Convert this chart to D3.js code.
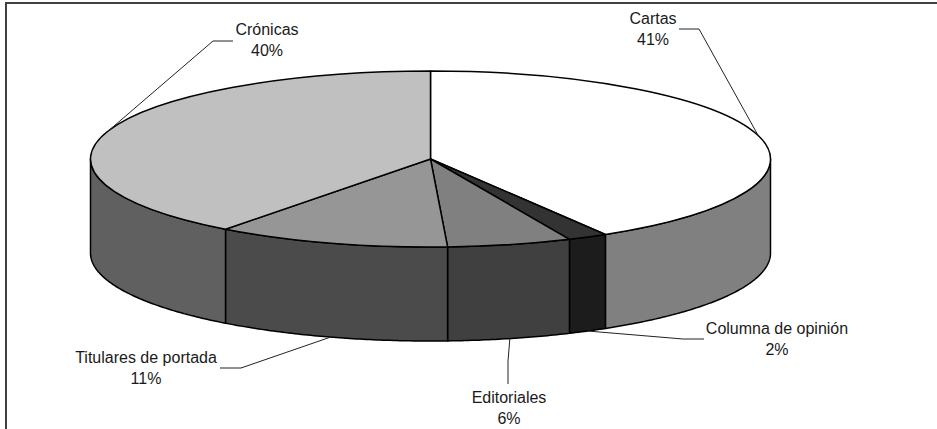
<!DOCTYPE html>
<html>
<head>
<meta charset="utf-8">
<script src="https://cdn.jsdelivr.net/npm/d3@7"></script>
<style>
body { margin: 0; background: #fff; }
text { font-family: "Liberation Sans", Arial, sans-serif; font-size: 16px; fill: #1a1a1a; }
</style>
</head>
<body>
<svg id="chart" width="937" height="429"></svg>
<script>
// values, the labels show them rounded
var categories = ["Cartas", "Columna de opinión", "Editoriales", "Titulares de portada", "Crónicas"];
var values = [41.4, 1.9, 5.9, 11.1, 39.7];
var top_colors = ["#ffffff", "#333333", "#808080", "#969696", "#c0c0c0"];
var side_colors = ["#808080", "#1c1c1c", "#404040", "#4b4b4b", "#606060"];

var width = 937, height = 429;
var cx = 430.5, cy = 159, rx = 340, ry = 88, depth = 94;

// label centre and the two points each leader line passes through
var label_pos = [
    {x: 653, y: 24, elbow: [[699, 29], [679, 29]]},
    {x: 777, y: 334, elbow: [[683, 339], [704, 339]]},
    {x: 509, y: 403, elbow: [[508, 361], [508, 384]]},
    {x: 146, y: 363, elbow: [[241, 368], [220, 368]]},
    {x: 267, y: 35, elbow: [[213, 41], [233, 41]]}
];

var svg = d3.select("#chart");
var fmt = d3.format(".0f");

var total = d3.sum(values);
var pie = d3.pie().sort(null).value(d => d);
var slices = pie(values);

// frame
svg.append("path")
    .attr("d", "M6,429V3H937")
    .style("fill", "none")
    .style("stroke", "#404040")
    .style("stroke-width", 2);

function ellipseX(a) { return cx + rx * Math.sin(a); }
function ellipseY(a) { return cy - ry * Math.cos(a); }

// the visible wall is the front half of the ellipse
var front = [Math.PI / 2, Math.PI * 1.5];

function wallPath(a0, a1) {
    var steps = d3.range(a0, a1, 0.01).concat([a1]);
    var upper = steps.map(a => [ellipseX(a), ellipseY(a)]);
    var lower = steps.slice().reverse().map(a => [ellipseX(a), ellipseY(a) + depth]);
    return d3.line()(upper.concat(lower)) + "Z";
}

var walls = svg.append("g");
slices.forEach((d, i) => {
    var a0 = Math.max(d.startAngle, front[0]);
    var a1 = Math.min(d.endAngle, front[1]);
    if (a1 <= a0) return;
    walls.append("path")
        .attr("class", "wall")
        .attr("d", wallPath(a0, a1))
        .style("fill", side_colors[i])
        .style("stroke", "#000")
        .style("stroke-width", 1.5)
        .style("stroke-linejoin", "round");
});

var arc = d3.arc().innerRadius(0).outerRadius(rx);

svg.append("g")
    .attr("transform", "translate(" + cx + "," + cy + ") scale(1," + (ry / rx) + ")")
    .selectAll("path.slice")
    .data(slices)
    .enter()
    .append("path")
    .attr("class", "slice")
    .attr("d", arc)
    .style("fill", (d, i) => top_colors[i])
    .style("stroke", "#000")
    .style("stroke-width", 1.5)
    .style("stroke-linejoin", "round")
    .attr("vector-effect", "non-scaling-stroke");

// leader lines start at the middle of each slice's rim
var leader = d3.line();
svg.append("g")
    .selectAll("path.leader")
    .data(slices)
    .enter()
    .append("path")
    .attr("class", "leader")
    .attr("d", (d, i) => {
        var mid = (d.startAngle + d.endAngle) / 2;
        var onFront = mid > front[0] && mid < front[1];
        var start = [ellipseX(mid), ellipseY(mid) + (onFront ? depth : 0)];
        return leader([start, label_pos[i].elbow[0], label_pos[i].elbow[1]]);
    })
    .style("fill", "none")
    .style("stroke", "#222")
    .style("stroke-width", 1);

var labels = svg.append("g")
    .selectAll("text.label")
    .data(slices)
    .enter()
    .append("text")
    .attr("class", "label")
    .attr("text-anchor", "middle")
    .attr("x", (d, i) => label_pos[i].x)
    .attr("y", (d, i) => label_pos[i].y);

labels.append("tspan")
    .attr("x", (d, i) => label_pos[i].x)
    .text((d, i) => categories[i]);

labels.append("tspan")
    .attr("x", (d, i) => label_pos[i].x)
    .attr("dy", 21)
    .text(d => fmt(d.value / total * 100) + "%");
</script>
</body>
</html>
